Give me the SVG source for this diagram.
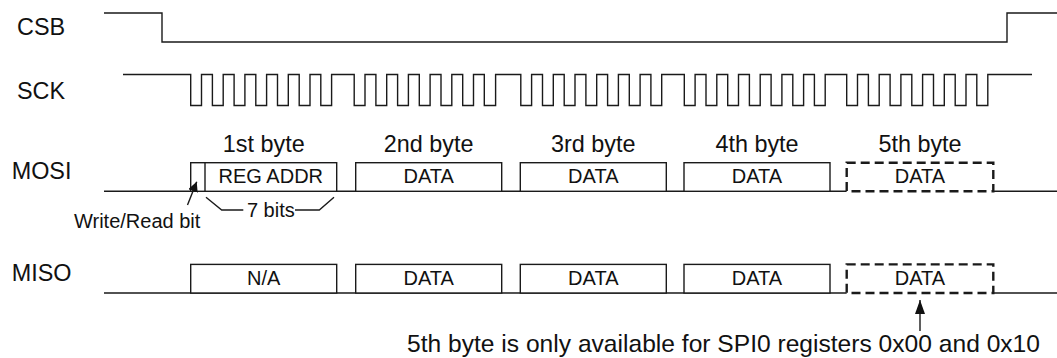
<svg xmlns="http://www.w3.org/2000/svg" width="1057" height="358" viewBox="0 0 1057 358">
<style>
.w{fill:none;stroke:#1a1a1a;stroke-width:1.4}
.b{fill:#fff;stroke:#1a1a1a;stroke-width:1.4}
.d{fill:#fff;stroke:#1a1a1a;stroke-width:2.4;stroke-dasharray:9 5}
.lbl{font-family:"Liberation Sans",Arial,sans-serif;font-size:23.4px;fill:#111}
.bt{font-family:"Liberation Sans",Arial,sans-serif;font-size:20px;fill:#111;text-anchor:middle}
.by{font-family:"Liberation Sans",Arial,sans-serif;font-size:23.4px;fill:#111;text-anchor:middle}
.note{font-family:"Liberation Sans",Arial,sans-serif;font-size:20px;fill:#111}
.ar{fill:none;stroke:#1a1a1a;stroke-width:1.4}
</style>
<defs>
<marker id="ah" viewBox="0 0 10 10" refX="10" refY="5" markerWidth="10" markerHeight="10" markerUnits="userSpaceOnUse" orient="auto"><path d="M0,0 L10,5 L0,10 z" fill="#111"/></marker>
<marker id="ah2" viewBox="0 0 14 10" refX="14" refY="5" markerWidth="14" markerHeight="10" markerUnits="userSpaceOnUse" orient="auto"><path d="M0,0 L14,5 L0,10 z" fill="#111"/></marker>
</defs>

<g id="csb">
<text class="lbl" x="17" y="35">CSB</text>
<path class="w" d="M104,13 H162 V42 H1007 V13 H1057"/>
</g>

<g id="sck">
<text class="lbl" x="17" y="99.3">SCK</text>
<path class="w" d="M123,74.5 H190.7
V105.5 H201.5 V74.5 H212.4 V105.5 H223.2 V74.5 H234.1 V105.5 H244.9 V74.5 H255.8 V105.5 H266.6 V74.5 H277.5 V105.5 H288.3 V74.5 H299.2 V105.5 H310 V74.5 H320.8 V105.5 H331.6 V74.5
H354.2 V105.5 H365 V74.5 H375.9 V105.5 H386.7 V74.5 H397.6 V105.5 H408.4 V74.5 H419.3 V105.5 H430.1 V74.5 H441 V105.5 H451.8 V74.5 H462.7 V105.5 H473.5 V74.5 H484.3 V105.5 H495.6 V74.5
H520.8 V105.5 H531.6 V74.5 H542.5 V105.5 H553.3 V74.5 H564.2 V105.5 H575 V74.5 H585.9 V105.5 H596.7 V74.5 H607.6 V105.5 H618.4 V74.5 H629.3 V105.5 H640.1 V74.5 H650.9 V105.5 H661.7 V74.5
H684.3 V105.5 H695.1 V74.5 H706 V105.5 H716.8 V74.5 H727.7 V105.5 H738.5 V74.5 H749.4 V105.5 H760.2 V74.5 H771.1 V105.5 H781.9 V74.5 H792.8 V105.5 H803.6 V74.5 H814.4 V105.5 H825.2 V74.5
H846.7 V105.5 H857.5 V74.5 H868.4 V105.5 H879.2 V74.5 H890.1 V105.5 H900.9 V74.5 H911.8 V105.5 H922.6 V74.5 H933.5 V105.5 H944.3 V74.5 H955.2 V105.5 H966 V74.5 H976.8 V105.5 H987.8 V74.5
H1032"/>
</g>

<g id="mosi">
<text class="lbl" x="11.7" y="179.3">MOSI</text>
<path class="w" d="M104,191.3 H846.7 M993.3,191.3 H1057"/>
<text class="by" x="263.7" y="151.5">1st byte</text>
<text class="by" x="428.7" y="151.5">2nd byte</text>
<text class="by" x="593.3" y="151.5">3rd byte</text>
<text class="by" x="757" y="151.5">4th byte</text>
<text class="by" x="920" y="151.5">5th byte</text>
<g id="mosi-b1">
<rect class="b" x="190.7" y="162.7" width="146" height="28.6"/>
<line class="w" x1="205" y1="162.7" x2="205" y2="191.3"/>
<text class="bt" x="270.8" y="183.3">REG ADDR</text>
</g>
<g id="mosi-b2"><rect class="b" x="355.7" y="162.7" width="146" height="28.6"/><text class="bt" x="428.7" y="183.3">DATA</text></g>
<g id="mosi-b3"><rect class="b" x="520.3" y="162.7" width="146" height="28.6"/><text class="bt" x="593.3" y="183.3">DATA</text></g>
<g id="mosi-b4"><rect class="b" x="684" y="162.7" width="146" height="28.6"/><text class="bt" x="757" y="183.3">DATA</text></g>
<g id="mosi-b5"><rect class="d" x="846.7" y="162.7" width="146.6" height="28.6"/><text class="bt" x="920" y="183.3">DATA</text></g>
<g id="bits7">
<path class="w" d="M206,197.3 L221.7,210 H243.3 M295,210 H319.3 L334,197.3"/>
<text class="bt" x="270.8" y="217.3">7 bits</text>
</g>
<text class="note" x="74" y="228.3">Write/Read bit</text>
</g>

<g id="miso">
<text class="lbl" x="11.7" y="280.5">MISO</text>
<path class="w" d="M104,293 H846.7 M993.3,293 H1057"/>
<g id="miso-b1"><rect class="b" x="190.7" y="264.4" width="146" height="28.6"/><text class="bt" x="263.7" y="285">N/A</text></g>
<g id="miso-b2"><rect class="b" x="355.7" y="264.4" width="146" height="28.6"/><text class="bt" x="428.7" y="285">DATA</text></g>
<g id="miso-b3"><rect class="b" x="520.3" y="264.4" width="146" height="28.6"/><text class="bt" x="593.3" y="285">DATA</text></g>
<g id="miso-b4"><rect class="b" x="684" y="264.4" width="146" height="28.6"/><text class="bt" x="757" y="285">DATA</text></g>
<g id="miso-b5"><rect class="d" x="846.7" y="264.4" width="146.6" height="28.6"/><text class="bt" x="920" y="285">DATA</text></g>
</g>

<g id="connectors">
<line class="ar" x1="187.5" y1="205" x2="196.7" y2="181.7" marker-end="url(#ah)"/>
<line class="ar" x1="920" y1="331" x2="920" y2="300" marker-end="url(#ah2)"/>
</g>

<text class="lbl" x="407" y="352" style="font-size:24.6px">5th byte is only available for SPI0 registers 0x00 and 0x10</text>
</svg>
